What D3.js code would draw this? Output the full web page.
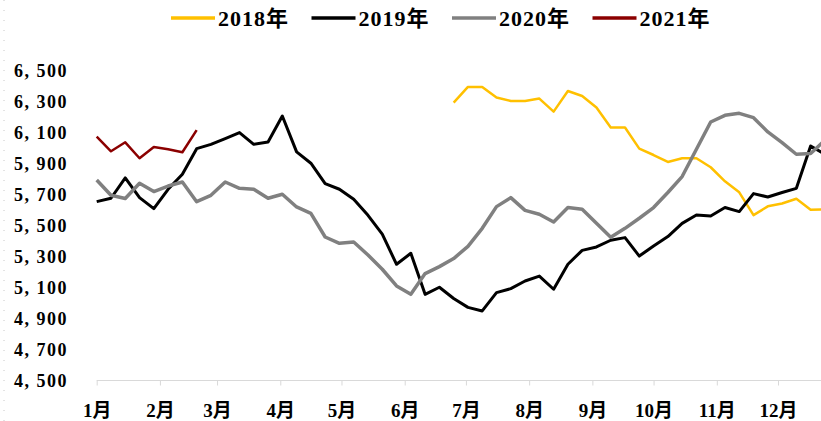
<!DOCTYPE html>
<html>
<head>
<meta charset="utf-8">
<script src="https://cdn.jsdelivr.net/npm/d3@7"></script>
<style>
	body { margin: 0; background: #fff; }
	text { font-family: "Liberation Serif", "Noto Sans CJK SC", serif; }
</style>
</head>
<body>
<svg class="chart"></svg>
<script>
// weekly values, week 0 = 1 Jan
var years = ["2018年", "2019年", "2020年", "2021年"];
var colors = ["#ffc000", "#000000", "#808080", "#8b0000"];
var startWeek = [25, 0, 0, 0];
var s2018 = [6296, 6397, 6397, 6329, 6307, 6307, 6322, 6238, 6371, 6339, 6264, 6135, 6135, 5999,
	5958, 5913, 5937, 5937, 5879, 5788, 5717, 5570, 5627, 5645, 5676, 5605, 5608];
var s2019 = [5657, 5679, 5810, 5683, 5612, 5737, 5834, 5999, 6027, 6064, 6103, 6027, 6042, 6210,
	5978, 5905, 5774, 5737, 5672, 5569, 5447, 5253, 5324, 5059, 5105, 5032, 4975, 4952, 5070, 5096,
	5145, 5177, 5092, 5253, 5343, 5365, 5408, 5425, 5306, 5371, 5432, 5517, 5571, 5565, 5619, 5593,
	5709, 5687, 5716, 5743, 6016, 5963];
var s2020 = [5797, 5698, 5677, 5776, 5722, 5758, 5784, 5657, 5698, 5784, 5743, 5737, 5679, 5705,
	5623, 5582, 5429, 5388, 5397, 5313, 5221, 5113, 5059, 5193, 5238, 5290, 5369, 5485, 5625, 5683,
	5601, 5576, 5526, 5619, 5608, 5517, 5427, 5485, 5550, 5619, 5716, 5819, 5995, 6171, 6214, 6227,
	6199, 6107, 6038, 5963, 5968, 6053];
var s2021 = [6077, 5982, 6040, 5937, 6010, 5995, 5976, 6119];
var yTicks = [4500, 4700, 4900, 5100, 5300, 5500, 5700, 5900, 6100, 6300, 6500];
var months = ["1月", "2月", "3月", "4月", "5月", "6月", "7月", "8月", "9月", "10月", "11月", "12月"];

var width = 821, height = 421;
var series = [s2018, s2019, s2020, s2021];

var svg = d3.select(".chart")
	.attr("width", width)
	.attr("height", height);

var x = d3.scaleTime()
	.domain([new Date(2019, 0, 1), new Date(2019, 11, 1)])
	.range([96.7, 778]);
var y = d3.scaleLinear()
	.domain([4500, 6500])
	.range([381, 71]);

function weekDate(i) { return d3.timeDay.offset(new Date(2019, 0, 1), 7 * i); }

// dotted frame edge on the left
svg.append("line")
	.attr("x1", 4).attr("x2", 4)
	.attr("y1", 0).attr("y2", height)
	.attr("stroke", "#c8c8c8")
	.attr("stroke-dasharray", "1,9");

// y labels (no axis line)
svg.append("g")
	.selectAll("text")
	.data(yTicks)
  .enter().append("text")
	.attr("x", 68)
	.attr("y", function(d) { return y(d); })
	.attr("dy", "0.35em")
	.attr("text-anchor", "end")
	.attr("font-size", "18px")
	.attr("letter-spacing", "1.5px")
	.attr("font-weight", "bold")
	.attr("fill", "#000")
	.text(function(d) { return d3.format(",")(d).replace(",", ", "); });

// x axis
var monthDates = months.map(function(m, i) { return new Date(2019, i, 1); });
var xAxis = d3.axisBottom(x)
	.tickValues(monthDates)
	.tickSize(5)
	.tickSizeOuter(0)
	.tickFormat(function(d, i) { return months[i]; });

var gx = svg.append("g")
	.attr("transform", "translate(0," + 380.5 + ")")
	.call(xAxis);
gx.select(".domain").remove();
gx.append("line")
	.attr("x1", 96.7).attr("x2", width)
	.attr("stroke", "#d9d9d9");
gx.selectAll(".tick line").attr("stroke", "#d9d9d9");
gx.selectAll(".tick text")
	.attr("y", 23)
	.attr("font-size", "19px")
	.attr("font-weight", "bold")
	.attr("font-family", "'Liberation Serif', 'Noto Sans CJK SC', serif")
	.attr("fill", "#000");

// lines
var line = d3.line()
	.x(function(d) { return x(d.date); })
	.y(function(d) { return y(d.value); });

var plot = svg.append("g");
var widths = [2.5, 3, 3.5, 2.5];
series.forEach(function(s, k) {
	var pts = s.map(function(v, i) { return { date: weekDate(startWeek[k] + i), value: v }; });
	plot.append("path")
		.attr("d", line(pts))
		.attr("fill", "none")
		.attr("stroke", colors[k])
		.attr("stroke-width", widths[k])
		.attr("stroke-linejoin", "round");
});

// legend
var legend = svg.append("g")
	.selectAll("g")
	.data(years)
  .enter().append("g")
	.attr("transform", function(d, i) { return "translate(" + (171 + i * 140.5) + ",18)"; });
legend.append("line")
	.attr("x1", 0).attr("x2", 44)
	.attr("stroke", function(d, i) { return colors[i]; })
	.attr("stroke-width", 3.5);
legend.append("text")
	.attr("x", 47)
	.attr("dy", "0.36em")
	.attr("font-size", "22px")
	.attr("font-weight", "bold")
	.attr("letter-spacing", "1px")
	.attr("fill", "#000")
	.text(function(d) { return d; });
</script>
</body>
</html>
